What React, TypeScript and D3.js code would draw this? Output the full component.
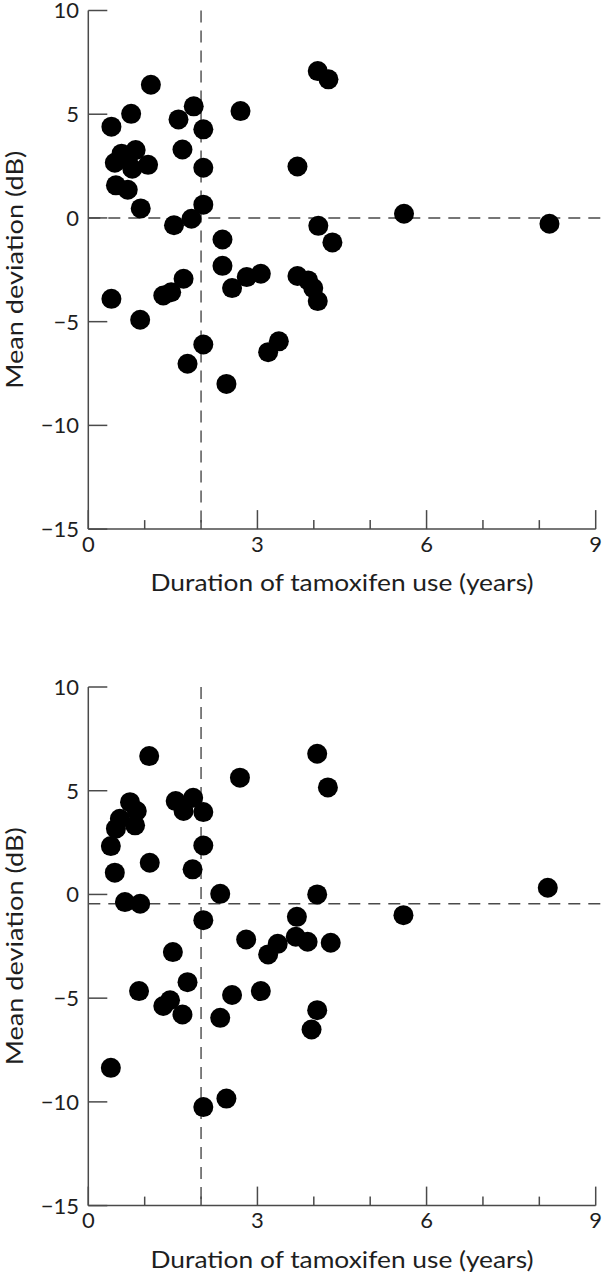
import React from "react";
import * as d3 from "d3";

// ---- data ----
const topDuration = [1.11, 0.76, 0.41, 1.60, 1.87, 2.04, 2.70, 0.47, 0.59, 0.70, 0.84, 0.78, 1.06, 0.49, 0.70, 0.93, 1.67, 2.04, 2.04, 1.83, 1.52, 3.71, 4.07, 4.26, 4.08, 4.33, 5.60, 8.18, 2.38, 2.38, 2.55, 2.81, 3.06, 3.71, 3.90, 3.99, 4.07, 0.41, 0.92, 1.33, 1.47, 1.69, 2.04, 1.76, 2.45, 3.19, 3.38];
const topDeviation = [6.42, 5.02, 4.40, 4.75, 5.38, 4.27, 5.15, 2.66, 3.10, 2.80, 3.27, 2.37, 2.56, 1.57, 1.36, 0.46, 3.30, 2.42, 0.64, -0.04, -0.35, 2.48, 7.08, 6.68, -0.38, -1.18, 0.20, -0.28, -1.04, -2.31, -3.38, -2.85, -2.69, -2.80, -3.01, -3.38, -4.01, -3.90, -4.91, -3.74, -3.58, -2.93, -6.10, -7.03, -8.00, -6.47, -5.95];

const bottomDuration = [1.08, 2.69, 4.06, 4.25, 0.74, 0.86, 0.56, 0.49, 0.83, 0.40, 0.47, 1.09, 1.55, 1.69, 1.86, 2.04, 2.04, 1.85, 0.65, 0.92, 2.34, 4.06, 2.04, 5.59, 8.15, 3.70, 2.80, 3.36, 3.19, 3.68, 3.89, 4.30, 1.50, 0.90, 1.33, 1.45, 1.67, 1.76, 2.34, 2.55, 3.06, 4.06, 3.96, 0.40, 2.04, 2.45];
const bottomDeviation = [6.67, 5.63, 6.78, 5.16, 4.45, 4.02, 3.65, 3.17, 3.33, 2.33, 1.05, 1.53, 4.50, 4.02, 4.66, 3.97, 2.36, 1.21, -0.37, -0.45, 0.03, 0.00, -1.24, -1.00, 0.32, -1.08, -2.17, -2.38, -2.89, -2.04, -2.28, -2.33, -2.78, -4.66, -5.38, -5.10, -5.79, -4.23, -5.95, -4.85, -4.66, -5.58, -6.51, -8.36, -10.25, -9.84];

const refDuration = [2, 2];
const refDeviation = [0, -0.45];

const xMajorTicks = [0, 3, 6, 9];
const xMinorTicks = [1, 2, 4, 5, 7, 8];
const yTicks = [10, 5, 0, -5, -10, -15];

const xTitle = "Duration of tamoxifen use (years)";
const yTitle = "Mean deviation (dB)";

const FONT = "Lato, 'Open Sans', sans-serif";
const AXIS = "#4a4a4a";
const TEXT = "#1e1e1e";

function fmt(v: number) {
  return v < 0 ? "\u2212" + Math.abs(v) : String(v);
}

function Panel({ xs, ys, refX, refY, top }: { xs: number[]; ys: number[]; refX: number; refY: number; top: number }) {
  const x = d3.scaleLinear().domain([0, 9]).range([88.3, 595.7]);
  const y = d3.scaleLinear().domain([-15, 10]).range([top + 518.6, top]);
  const x0 = x(0);
  const yb = y(-15);
  const pts = d3.zip(xs, ys);
  return (
    <g>
      {/* reference lines */}
      <line x1={x(refX)} x2={x(refX)} y1={y(10)} y2={yb} stroke={AXIS} strokeWidth={1.4} strokeDasharray="12,8" />
      <line x1={x0} x2={x(9.16)} y1={y(refY)} y2={y(refY)} stroke={AXIS} strokeWidth={1.4} strokeDasharray="12,8" />
      {/* axes */}
      <line x1={x0} x2={x0} y1={y(10)} y2={yb} stroke={AXIS} strokeWidth={1.5} />
      <line x1={x0} x2={x(9)} y1={yb} y2={yb} stroke={AXIS} strokeWidth={1.5} />
      {yTicks.map((t) => (
        <g key={"y" + t}>
          <line x1={x0} x2={x0 + 19} y1={y(t)} y2={y(t)} stroke={AXIS} strokeWidth={1.5} />
          <text x={79} y={y(t)} dy="0.36em" textAnchor="end" fontFamily={FONT} fontSize={22} fill={TEXT}>
            {fmt(t)}
          </text>
        </g>
      ))}
      {xMajorTicks.map((t) => (
        <g key={"x" + t}>
          <line x1={x(t)} x2={x(t)} y1={yb} y2={yb - 19} stroke={AXIS} strokeWidth={1.5} />
          <text x={x(t)} y={yb + 22.5} textAnchor="middle" fontFamily={FONT} fontSize={22} fill={TEXT}>
            {fmt(t)}
          </text>
        </g>
      ))}
      {xMinorTicks.map((t) => (
        <line key={"m" + t} x1={x(t)} x2={x(t)} y1={yb} y2={yb - 9} stroke={AXIS} strokeWidth={1.5} />
      ))}
      <text x={(x(0) + x(9)) / 2} y={yb + 62} textAnchor="middle" fontFamily={FONT} fontSize={24} fill={TEXT} textLength={383} lengthAdjust="spacingAndGlyphs">
        {xTitle}
      </text>
      <text transform={`translate(23,${(y(10) + yb) / 2}) rotate(-90)`} textAnchor="middle" fontFamily={FONT} fontSize={24} fill={TEXT} textLength={238} lengthAdjust="spacingAndGlyphs">
        {yTitle}
      </text>
      {pts.map(([a, b], i) => (
        <circle key={i} cx={x(a)} cy={y(b)} r={10} fill="#000" />
      ))}
    </g>
  );
}

export default function App() {
  return (
    <svg width={611} height={1280} style={{ position: "absolute", left: 0, top: 0, display: "block", background: "#fff" }}>
      <rect width={611} height={1280} fill="#fff" />
      <Panel xs={topDuration} ys={topDeviation} refX={refDuration[0]} refY={refDeviation[0]} top={10.5} />
      <Panel xs={bottomDuration} ys={bottomDeviation} refX={refDuration[1]} refY={refDeviation[1]} top={687} />
    </svg>
  );
}
